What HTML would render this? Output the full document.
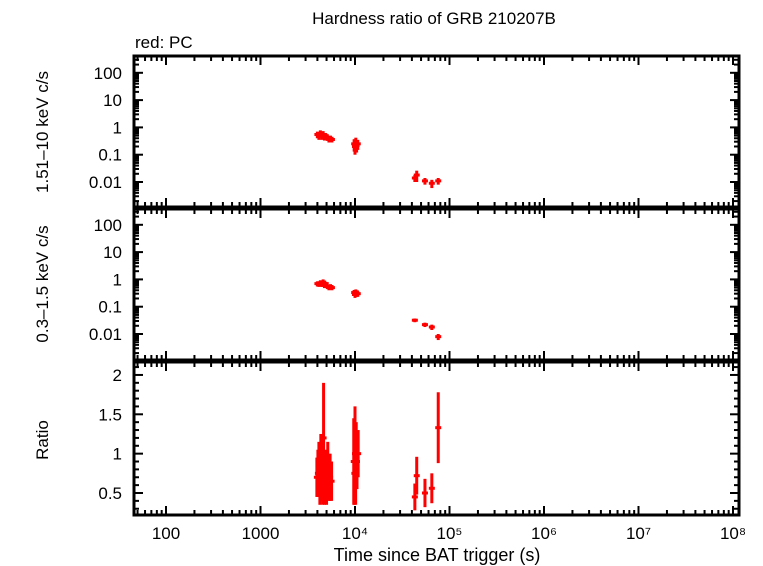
<!DOCTYPE html>
<html><head><meta charset="utf-8"><style>
html,body{margin:0;padding:0;background:#fff;}
svg{display:block;font-family:"Liberation Sans",sans-serif;}
</style></head><body>
<svg id="c" width="763" height="566" viewBox="0 0 763 566">
<text x="434" y="24" font-size="17" text-anchor="middle">Hardness ratio of GRB 210207B</text>
<text x="135" y="48" font-size="17">red: PC</text>
<text x="437" y="561" font-size="18" text-anchor="middle">Time since BAT trigger (s)</text>
<text transform="translate(48,132) rotate(-90)" font-size="17" text-anchor="middle">1.51–10 keV c/s</text>
<text transform="translate(48,284) rotate(-90)" font-size="17" text-anchor="middle">0.3–1.5 keV c/s</text>
<text transform="translate(48,440) rotate(-90)" font-size="17" text-anchor="middle">Ratio</text>
</svg>
<script>
const hardT   = [4000,4150,4300,4450,4600,4750,4900,5100,5300,5500,5700,9800,10000,10200,10400,10700,43000,45000,55000,65000,76000];
const hardV   = [0.55,0.5,0.6,0.5,0.55,0.45,0.5,0.42,0.38,0.4,0.36,0.25,0.2,0.3,0.22,0.25,0.014,0.018,0.011,0.009,0.011];
const hardE   = [0.15,0.15,0.18,0.15,0.18,0.12,0.12,0.1,0.1,0.1,0.08,0.12,0.1,0.12,0.1,0.1,0.004,0.008,0.003,0.003,0.003];
const softT   = [4000,4150,4300,4450,4600,4750,4900,5100,5300,5500,5700,9800,10000,10200,10400,10700,43000,55000,65000,76000];
const softV   = [0.7,0.65,0.75,0.65,0.8,0.6,0.7,0.55,0.5,0.55,0.5,0.33,0.28,0.35,0.3,0.3,0.032,0.022,0.018,0.008];
const softE   = [0.15,0.12,0.18,0.12,0.2,0.12,0.12,0.1,0.1,0.12,0.1,0.08,0.07,0.08,0.07,0.07,0.005,0.004,0.004,0.002];
const ratioT  = [3950,4050,4150,4250,4350,4450,4550,4650,4750,4850,5000,5150,5300,5450,5650,9700,9850,10000,10150,10300,10500,10800,43000,45000,55000,65000,76000];
const ratioV  = [0.7,0.75,0.8,0.65,0.9,0.7,0.8,1.2,0.6,0.75,0.55,0.85,0.65,0.7,0.65,0.9,0.75,1.0,0.8,1.0,0.9,1.0,0.45,0.72,0.5,0.56,1.33];
const ratioE  = [0.25,0.3,0.35,0.3,0.35,0.3,0.45,0.7,0.25,0.3,0.2,0.3,0.25,0.3,0.25,0.55,0.4,0.6,0.45,0.4,0.35,0.3,0.17,0.24,0.18,0.19,0.45];
const xTickLabels = ["100","1000","10⁴","10⁵","10⁶","10⁷","10⁸"];
const logTickLabels = ["0.01","0.1","1","10","100"];
const ratioTickLabels = ["0.5","1","1.5","2"];

const svg=document.getElementById('c');const NS='http://www.w3.org/2000/svg';
const L=134,R=739;
function xs(t){return 166+(Math.log10(t)-2)*94.5;}
function mk(tag,a,p){const e=document.createElementNS(NS,tag);for(const k in a)e.setAttribute(k,a[k]);(p||svg).appendChild(e);return e;}
const panels=[{top:56,bot:207,log:true,y0:182,k:27.3},{top:209,bot:360,log:true,y0:334,k:27.3},{top:362,bot:515,log:false}];
function ys(p,v){if(p.log)return p.y0-(Math.log10(v)+2)*p.k;return 493-(v-0.5)*78.7;}
panels.forEach((p,i)=>{
  const g=mk('g',{});
  
  
  const fr=mk('rect',{x:L,y:p.top,width:R-L,height:p.bot-p.top,fill:'none',stroke:'#000','stroke-width':3},g);
  
  
  for(let d=1;d<=8;d++)for(let m=1;m<10;m++){const t=m*Math.pow(10,d);const x=xs(t);if(x<L||x>R)continue;const len=m==1?9:5;
    mk('line',{x1:x,x2:x,y1:p.bot,y2:p.bot-len,stroke:'#000','stroke-width':2},g);
    mk('line',{x1:x,x2:x,y1:p.top,y2:p.top+len,stroke:'#000','stroke-width':2},g);}
  if(p.log){
    for(let d=-3;d<=2;d++)for(let m=1;m<10;m++){const v=m*Math.pow(10,d);const y=ys(p,v);if(y<p.top||y>p.bot)continue;const len=m==1?9:5;
      mk('line',{x1:L,x2:L+len,y1:y,y2:y,stroke:'#000','stroke-width':2},g);
      mk('line',{x1:R,x2:R-len,y1:y,y2:y,stroke:'#000','stroke-width':2},g);}
    logTickLabels.forEach((s,j)=>{const tx=mk('text',{x:122,y:ys(p,Math.pow(10,j-2))+6,'font-size':17,'text-anchor':'end'},g);tx.textContent=s;
      
      });
  } else {
    for(let v=0.3;v<=2.11;v+=0.1){const y=ys(p,v);const maj=Math.abs(v*2-Math.round(v*2))<0.01;const len=maj?9:5;
      mk('line',{x1:L,x2:L+len,y1:y,y2:y,stroke:'#000','stroke-width':2},g);
      mk('line',{x1:R,x2:R-len,y1:y,y2:y,stroke:'#000','stroke-width':2},g);}
    ratioTickLabels.forEach((s,j)=>{const tx=mk('text',{x:122,y:ys(p,0.5+j*0.5)+6,'font-size':17,'text-anchor':'end'},g);tx.textContent=s;
      
      });
  }
});
xTickLabels.forEach((s,j)=>{const tx=mk('text',{x:xs(Math.pow(10,j+2)),y:539,'font-size':17,'text-anchor':'middle'});tx.textContent=s;
  
  });
function series(p,T,V,E,name){T.forEach((t,i)=>{const x=xs(t),y=ys(p,V[i]);
  const lo=Math.max(V[i]-E[i],1e-4);
  const g=mk('g',{stroke:'#f00','stroke-width':3});
  
  
  mk('line',{x1:x,x2:x,y1:ys(p,lo),y2:ys(p,V[i]+E[i])},g);
  const hw=Math.max(3,(xs(t*1.05)-xs(t*0.95))/2);
  mk('line',{x1:x-hw,x2:x+hw,y1:y,y2:y},g);});}
series(panels[0],hardT,hardV,hardE,'hard');
series(panels[1],softT,softV,softE,'soft');
series(panels[2],ratioT,ratioV,ratioE,'ratio');
</script>
</body></html>
